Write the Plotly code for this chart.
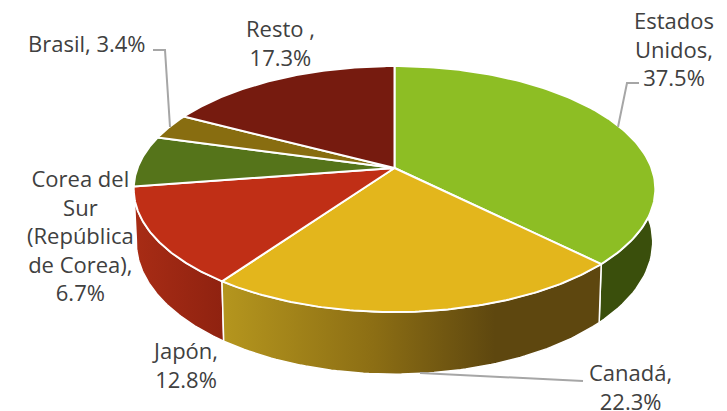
import numpy as np
import plotly.graph_objects as go

# Data
categories = ["Estados Unidos", "Canadá", "Japón", "Corea del Sur (República de Corea)", "Brasil", "Resto"]
shares = [37.5, 22.3, 12.8, 6.7, 3.4, 17.3]
label_names = [["Estados", "Unidos,"], ["Canadá,"], ["Japón,"],
               ["Corea del", "Sur", "(República", "de Corea),"], ["Brasil,"], ["Resto ,"]]

# Styling
top_colors = ["#8DBE24", "#E3B61C", "#C02F16", "#55741A", "#886D10", "#761B0F"]
side_scales = [
    [[0, "#3A4F0C"], [1, "#3A4F0C"]],
    [[0, "#B5961E"], [0.4, "#8C6E14"], [0.72, "#5E470F"], [1, "#5E470F"]],
    [[0, "#A82C15"], [1, "#8F2210"]],
    [[0, "#435C14"], [1, "#435C14"]],
    [[0, "#6C570C"], [1, "#6C570C"]],
    [[0, "#5E150C"], [1, "#5E150C"]],
]
TEXT = "#404040"
LEADER = "#A6A6A6"
FONT = "Open Sans"
FONT_SIZE = 22

# Projection of the tilted pie
CX, CY, A, B, K = 394.5, 168, 257, 119.4, 0.171
DEPTH, SHRINK = 51.5, 0.99


def top_xy(phi):
    u, v = np.sin(phi), -np.cos(phi)
    d = 1 - K * v
    return CX + A * u / d, CY + B * v / d


def bottom_xy(phi):
    x, y = top_xy(phi)
    d = 1 + K * np.cos(phi)
    return CX + SHRINK * (x - CX), y + DEPTH / d


edges = np.radians(np.concatenate([[0], np.cumsum(shares)]) / sum(shares) * 360)
fig = go.Figure()

# Side walls first (the top face hides the rear ones)
for i in [5, 4, 0, 3, 2, 1]:
    phi = np.linspace(edges[i], edges[i + 1], 80)
    tx, ty = top_xy(phi)
    bx, by = bottom_xy(phi)
    fig.add_trace(go.Scatter(
        x=np.r_[tx, bx[::-1], tx[0]], y=np.r_[ty, by[::-1], ty[0]],
        mode="lines", fill="toself", hoverinfo="skip", showlegend=False,
        line=dict(color="white", width=1.5),
        fillgradient=dict(type="horizontal", colorscale=side_scales[i]),
    ))

# Top faces
for i, name in enumerate(categories):
    phi = np.linspace(edges[i], edges[i + 1], 120)
    tx, ty = top_xy(phi)
    fig.add_trace(go.Scatter(
        x=np.r_[CX, tx, CX], y=np.r_[CY, ty, CY], name=name,
        mode="lines", fill="toself", fillcolor=top_colors[i], showlegend=False,
        line=dict(color="white", width=2),
    ))

# Labels
label_pos = [(674, 48.5), (630, 386), (185, 364), (80, 235), (87, 43), (280, 42)]
for names, share, (lx, ly) in zip(label_names, shares, label_pos):
    if len(names) == 1 and names[0] == "Brasil,":
        text = f"{names[0]} {share}%"
    else:
        text = "<br>".join(names + [f"{share}%"])
    fig.add_annotation(x=lx, y=ly, xref="x", yref="y", text=text, showarrow=False,
                       align="center", xanchor="center", yanchor="middle",
                       font=dict(family=FONT, size=FONT_SIZE, color=TEXT))

# Leader lines
leaders = ["M153,50 L165,50 L170,127", "M639,83 L627,83 L618,127", "M583,381 L420,373"]
shapes = [dict(type="path", path=p, xref="x", yref="y",
               line=dict(color=LEADER, width=2)) for p in leaders]

fig.update_layout(
    width=727, height=411, autosize=False,
    margin=dict(l=0, r=0, t=0, b=0),
    paper_bgcolor="white", plot_bgcolor="white",
    xaxis=dict(range=[0, 727], visible=False, fixedrange=True),
    yaxis=dict(range=[411, 0], visible=False, fixedrange=True),
    shapes=shapes,
)
fig.write_html("out.html", config=dict(displayModeBar=False),
               post_script="document.body.style.margin='0';document.documentElement.style.overflow='hidden';")
